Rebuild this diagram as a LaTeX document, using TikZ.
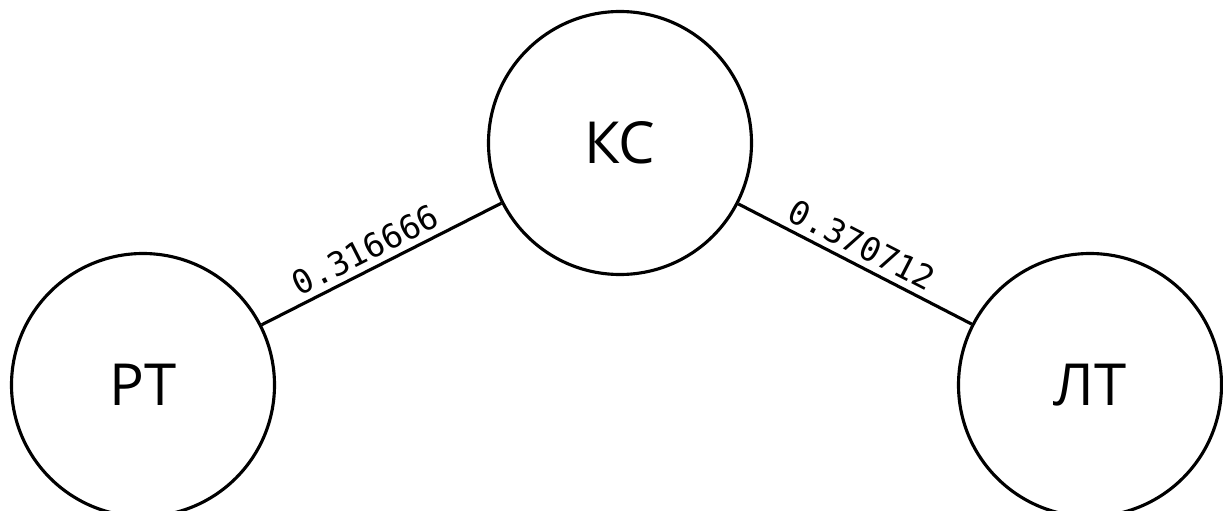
\documentclass[tikz,border=0pt]{standalone}
\usepackage{fontspec}
\setmainfont{Open Sans}
\newfontfamily\weightfont{DejaVu Sans Mono}
\usetikzlibrary{arrows}

\tikzset{
    topic/.style={draw, circle, line width=1.1mm, minimum size=263pt, inner sep=0pt, font=\fontsize{58}{60}\selectfont},
    weight/.style={sloped, above, inner sep=6pt, font=\weightfont\fontsize{33}{35}\selectfont}
}

\begin{document}
\begin{tikzpicture}[x=1pt, y=-1pt]
    \useasboundingbox (0,0) rectangle (1223,511);
    \fill[white] (0,0) rectangle (1223,511);
    \node[topic] (ks) at (620,143) {КС};
    \node[topic] (rt) at (143,385) {РТ};
    \node[topic] (lt) at (1090,385) {ЛТ};
    \draw[line width=1.1mm] (rt) -- node[weight, pos=0.47] (wrk) {0.316666} (ks); % edge weights
    \draw[line width=1.1mm] (ks) -- node[weight, pos=0.49] (wkl) {0.370712} (lt);
\end{tikzpicture}
\end{document}
